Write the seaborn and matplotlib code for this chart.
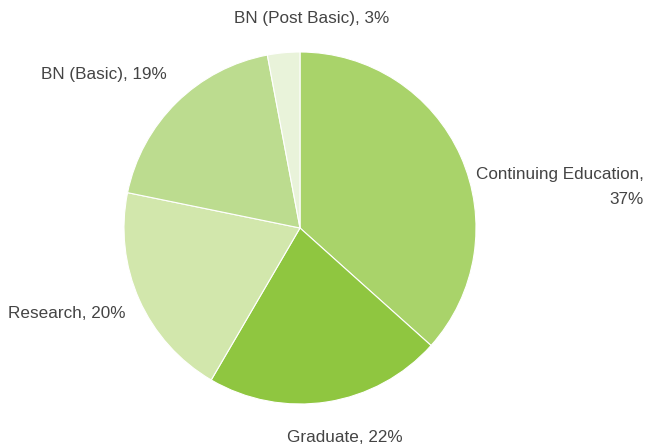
import seaborn as sns
import matplotlib.pyplot as plt

# datos del grafico
categorias = ["Continuing Education", "Graduate", "Research", "BN (Basic)", "BN (Post Basic)"]
porcentajes = [37, 22, 20, 19, 3]
colores = ["#a9d36a", "#8fc640", "#d2e7ac", "#bcdc8f", "#e9f3da"]

sns.set_style("white")
plt.rcParams['font.family'] = ['Liberation Sans', 'DejaVu Sans']

fig = plt.figure(figsize=(6.46, 4.45), dpi=100)
# circulo centrado en (300, 228) px, radio ~176 px
W, H = 646, 445
ax = fig.add_axes([124 / W, (H - 404) / H, 352 / W, 352 / H])
ax.pie(porcentajes, colors=colores, startangle=90, counterclock=False, radius=1,
       wedgeprops={"edgecolor": "white", "linewidth": 0.8})
ax.set_xlim(-1, 1)
ax.set_ylim(-1, 1)
ax.set_aspect("equal")
ax.axis("off")

# etiquetas (posiciones en pixeles de la figura)
etiquetas = [
    ("Continuing Education,\n37%", 644, 187, "right"),
    ("Graduate, 22%", 345, 437, "center"),
    ("Research, 20%", 67, 313, "center"),
    ("BN (Basic), 19%", 104, 75, "center"),
    ("BN (Post Basic), 3%", 312, 19, "center"),
]
for txt, x, y, ha in etiquetas:
    fig.text(x / W, 1 - y / H, txt, ha=ha, va="center", fontsize=12.3,
             color="#444444", linespacing=1.75)

plt.savefig("out.png", dpi=100)
plt.close()
